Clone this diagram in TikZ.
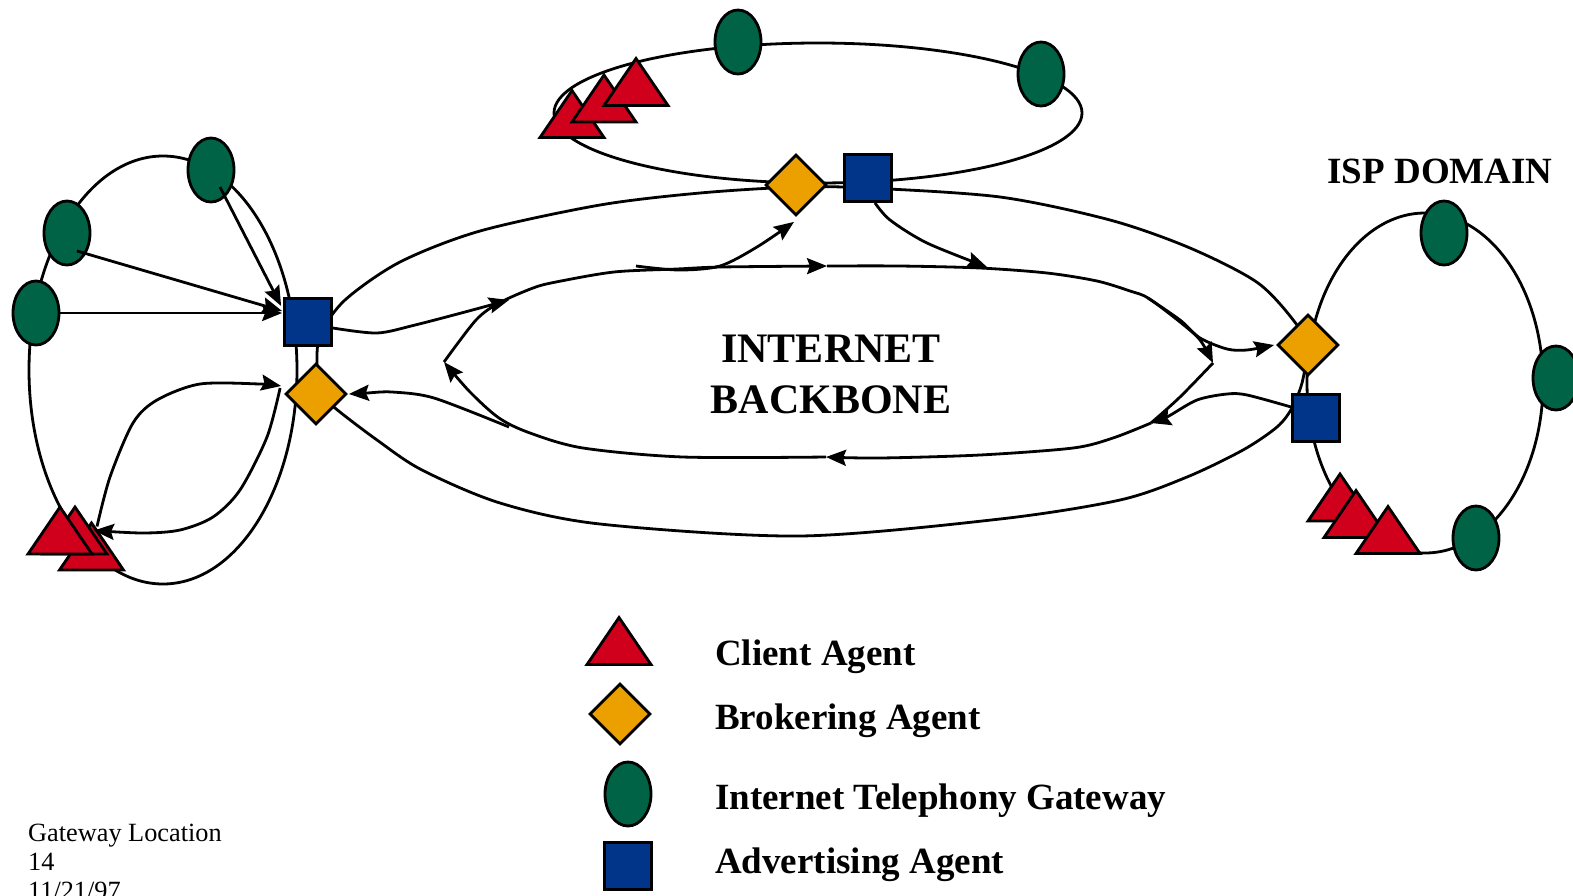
\documentclass[tikz,border=0pt]{standalone}
\usepackage{fontspec}
\setmainfont{Liberation Serif}
\usetikzlibrary{shapes.geometric,arrows.meta,calc}

\definecolor{agentred}{RGB}{208,0,28}
\definecolor{brokerorange}{RGB}{235,160,0}
\definecolor{gatewaygreen}{RGB}{0,99,70}
\definecolor{adblue}{RGB}{0,53,138}

\tikzset{
  wire/.style={line width=2.8pt, line join=round},
  flow/.style={wire, -{Stealth[length=20pt,width=16pt,inset=3pt]}},
  gateway/.style={ellipse, draw, line width=2.8pt, fill=gatewaygreen,
    minimum width=46pt, minimum height=64pt, inner sep=0pt},
  broker/.style={diamond, draw, line width=2.8pt, fill=brokerorange,
    minimum width=61pt, minimum height=61pt, inner sep=0pt},
  advert/.style={rectangle, draw, line width=2.8pt, fill=adblue,
    minimum width=47pt, minimum height=47pt, inner sep=0pt},
  client/.style={draw, line width=2.8pt, fill=agentred, line join=miter},
  bigtitle/.style={font=\fontsize{42}{51}\selectfont\bfseries, inner sep=0pt, anchor=base},
  domaintitle/.style={font=\fontsize{37}{44}\selectfont\bfseries, inner sep=0pt, anchor=base},
  legendtext/.style={font=\fontsize{37}{44}\selectfont\bfseries, inner sep=0pt, anchor=base west},
  footnote/.style={font=\fontsize{26.3}{29}\selectfont, inner sep=0pt, anchor=base west},
}

% client agent: a red triangle 64 wide, 47 high, centred on a named coordinate
\newcommand\clientat[3]{%
  \coordinate (#1) at (#2,#3);
  \filldraw[client] (#1) ++(-32,23.5) -- ++(32,-47) -- ++(32,47) -- cycle;}

\begin{document}
\begin{tikzpicture}[x=1pt,y=-1pt]
\path[use as bounding box, fill=white] (0,0) rectangle (1573,895);

% ---- domain rings ----
\draw[wire] (163,370) ellipse [x radius=134pt, y radius=214pt];
\draw[wire] (818,113) ellipse [x radius=264pt, y radius=70pt];
\draw[wire] (1425,383) ellipse [x radius=118pt, y radius=170pt];

% ---- outer backbone ring ----
\draw[wire] plot[smooth] coordinates {(317,364) (320,335) (345,300) (400,262)
  (480,231) (600,205) (700,193) (796,187) (868,188) (1000,197) (1110,220)
  (1190,248) (1258,283) (1297,325) (1308,350)};
\draw[wire] plot[smooth] coordinates {(317,364) (320,392) (335,408) (377,440)
  (422,470) (500,503) (600,524) (800,536) (1000,519) (1120,500) (1187,477)
  (1243,450) (1277,427) (1292,408) (1302,383) (1308,350)};

% ---- agents ----
\node[gateway] (gwl1) at (211,170) {};
\node[gateway] (gwl2) at (67,233) {};
\node[gateway] (gwl3) at (36,313) {};
\node[advert] (sqL) at (308,322) {};
\node[broker] (dmL) at (316,394) {};
\clientat{cl3}{91.5}{546.5}
\clientat{cl2}{75}{530.5}
\clientat{cl1}{60}{530.5}

\node[gateway] (gwt1) at (738,42) {};
\node[gateway] (gwt2) at (1041,74) {};
\node[broker] (dmT) at (796,185) {};
\node[advert] (sqT) at (868,178) {};
\clientat{ct1}{572}{114}
\clientat{ct2}{604}{98.5}
\clientat{ct3}{636}{82}

\node[gateway] (gwr1) at (1444,233) {};
\node[gateway] (gwr2) at (1556,378) {};
\node[gateway] (gwr3) at (1476,538) {};
\node[broker] (dmR) at (1308,345) {};
\node[advert] (sqR) at (1316,418) {};
\clientat{cr1}{1340}{497.5}
\clientat{cr2}{1356}{514}
\clientat{cr3}{1388}{530}

% ---- inner backbone loop ----
\coordinate (tipL) at (444,362);
\coordinate (tipR) at (1213,363);
\coordinate (midT) at (827,266);
\coordinate (midB) at (826,457);
\coordinate (joinR) at (1151,423);
\coordinate (joinL) at (509,427);
\coordinate (entryL) at (509,300);
\coordinate (branchT) at (636,266);
\coordinate (landT) at (987,267);
\coordinate (branchR) at (1148,298);

\draw[flow] plot[smooth] coordinates {(tipL) (476,320) (499,303) (533,288)
  (556,282) (614,272) (677,269) (721,267) (midT)};
\draw[flow] plot[smooth] coordinates {(midT) (900,266) (980,268) (1047,273)
  (1097,281) (1130,291) (branchR) (1180,322) (1200,340) (tipR)};
\draw[wire] plot[smooth] coordinates {(tipR) (1180,397) (joinR)};
\draw[flow] plot[smooth] coordinates {(joinR) (1113,438) (1073,448) (980,455)
  (880,458) (midB)};
\draw[flow] plot[smooth] coordinates {(midB) (683,457) (583,448) (530,433)
  (499,418) (470,392) (tipL)};

% ---- links between agents and the backbone ----
\draw[flow] plot[smooth] coordinates {($(sqL.east)+(0,6)$) (377,333) (415,325)
  (465,312) (entryL)};
\draw[flow] plot[smooth] coordinates {(joinL) (434,398) (392,392) (367,393)
  ($(dmL.east)+(1,0)$)};
\draw[flow] plot[smooth] coordinates {(branchT) (679,270) (720,266) (757,247)
  ($(dmT.south)+(-2,5)$)};
\draw[flow] plot[smooth] coordinates {($(sqT.south)+(7,0)$) (890,220) (927,243)
  (landT)};
\draw[flow] plot[smooth] coordinates {(branchR) (1180,320) (1200,338)
  (1227,349) (1247,350) ($(dmR.west)+(-2,0)$)};
\draw[flow] plot[smooth] coordinates {($(sqR.west)+(0,-11)$) (1247,395)
  (1227,394) (1197,400) (1167,417) (joinR)};

% ---- links inside the left domain ----
\draw[flow] (gwl3.east) -- ($(sqL.west)+(-1,-9)$);
\draw[flow] ($(gwl2)+(10,18)$) -- ($(sqL.west)+(-1,-11)$);
\draw[flow] ($(gwl1)+(9,17)$) -- ($(sqL.west)+(-2,-16)$);
\draw[flow] plot[smooth] coordinates {($(cl2)+(22,-4)$) (110,477) (133,423)
  (157,400) (200,384) (260,384) ($(dmL.west)+(-3,-8)$)};
\draw[flow] plot[smooth] coordinates {($(dmL.west)+(-4,-6)$) (267,437) (240,490)
  (213,517) (180,530) (143,533) ($(cl2)+(19,0)$)};

% ---- labels ----
\node[bigtitle] (lblA) at (831,362) {INTERNET};
\node[bigtitle] (lblB) at (831,413) {BACKBONE};
\node[domaintitle] (lblISP) at (1440,183) {ISP DOMAIN};

% ---- legend ----
\clientat{lgC}{619}{641}
\node[broker] (lgB) at (620,714) {};
\node[gateway] (lgG) at (628,794) {};
\node[advert] (lgA) at (628,866) {};
\node[legendtext] (txC) at (715,665) {Client Agent};
\node[legendtext] (txB) at (715,729) {Brokering Agent};
\node[legendtext] (txG) at (715,809) {Internet Telephony Gateway};
\node[legendtext] (txA) at (715,873) {Advertising Agent};

% ---- footer ----
\node[footnote] (ft1) at (28,841) {Gateway Location};
\node[footnote] (ft2) at (28,870) {14};
\node[footnote] (ft3) at (28,899) {11/21/97};
\end{tikzpicture}
\end{document}
